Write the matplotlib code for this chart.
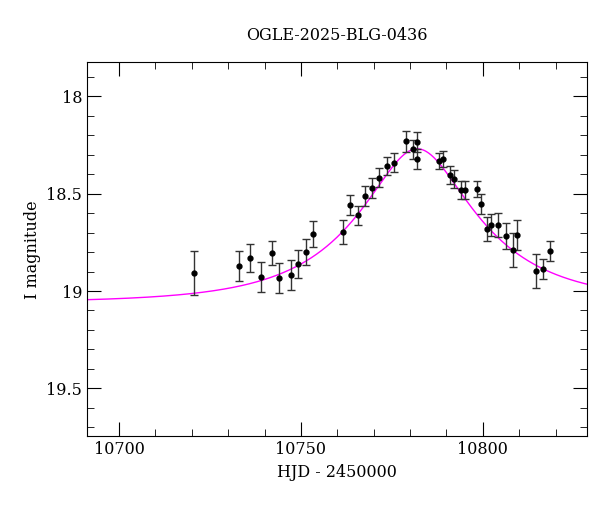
import numpy as np
import matplotlib
matplotlib.use("Agg")
import matplotlib.pyplot as plt
from matplotlib.ticker import MultipleLocator

# observations: HJD-2450000, I mag, error
hjd = [10720.6, 10732.9, 10735.9, 10738.9, 10742.0, 10744.0, 10747.2, 10749.2,
       10751.3, 10753.3, 10761.5, 10763.5, 10765.6, 10767.6, 10769.6, 10771.6,
       10773.7, 10775.7, 10778.8, 10780.8, 10781.8, 10781.9, 10788.0, 10789.1,
       10790.9, 10792.0, 10794.0, 10795.1, 10798.3, 10799.4, 10801.2, 10802.4,
       10804.3, 10806.5, 10808.3, 10809.4, 10814.6, 10816.6, 10818.6]
mag = [18.908, 18.873, 18.829, 18.927, 18.805, 18.933, 18.919, 18.860,
       18.800, 18.706, 18.697, 18.557, 18.612, 18.513, 18.470, 18.417,
       18.359, 18.340, 18.232, 18.273, 18.236, 18.322, 18.333, 18.323,
       18.405, 18.426, 18.482, 18.482, 18.477, 18.554, 18.681, 18.662,
       18.660, 18.718, 18.790, 18.713, 18.897, 18.889, 18.796]
err = [0.115, 0.077, 0.072, 0.077, 0.062, 0.077, 0.077, 0.072,
       0.067, 0.067, 0.062, 0.051, 0.051, 0.051, 0.051, 0.051,
       0.046, 0.051, 0.056, 0.051, 0.051, 0.051, 0.041, 0.041,
       0.046, 0.046, 0.046, 0.046, 0.041, 0.051, 0.062, 0.056,
       0.062, 0.067, 0.087, 0.077, 0.087, 0.051, 0.051]

# blended point-lens model
t0, tE, u0, I0, fs = 10782.0, 33.0, 0.4, 19.06, 0.65

plt.rcParams["font.family"] = "DejaVu Serif"
fig = plt.figure(figsize=(6.0, 5.12), dpi=100)
ax = fig.add_axes([0.145, 0.148, 0.833, 0.73])

t = np.linspace(10690, 10830, 600)
u = np.sqrt(u0**2 + ((t - t0) / tE)**2)
A = (u**2 + 2) / (u * np.sqrt(u**2 + 4))
ax.plot(t, I0 - 2.5 * np.log10(fs * A + 1 - fs), color="magenta", lw=1)

ax.errorbar(hjd, mag, yerr=err, fmt="o", color="black", ms=3.5,
            ecolor="#333333", elinewidth=1, capsize=3, capthick=1)

ax.set_xlim(10691.2, 10828.6)
ax.set_ylim(19.746, 17.826)
ax.xaxis.set_major_locator(MultipleLocator(50))
ax.xaxis.set_minor_locator(MultipleLocator(10))
ax.yaxis.set_major_locator(MultipleLocator(0.5))
ax.yaxis.set_minor_locator(MultipleLocator(0.1))
ax.yaxis.set_major_formatter(plt.FuncFormatter(lambda v, p: f"{v:g}"))
ax.tick_params(which="both", direction="in", top=True, right=True, labelsize=11.5)
ax.tick_params(which="major", length=10)
ax.tick_params(which="minor", length=5)
ax.set_xlabel("HJD - 2450000", fontsize=11.5)
ax.set_ylabel("I magnitude", fontsize=11.5)
ax.set_title("OGLE-2025-BLG-0436", fontsize=11.5, pad=16)

fig.savefig("out.png", dpi=100)
